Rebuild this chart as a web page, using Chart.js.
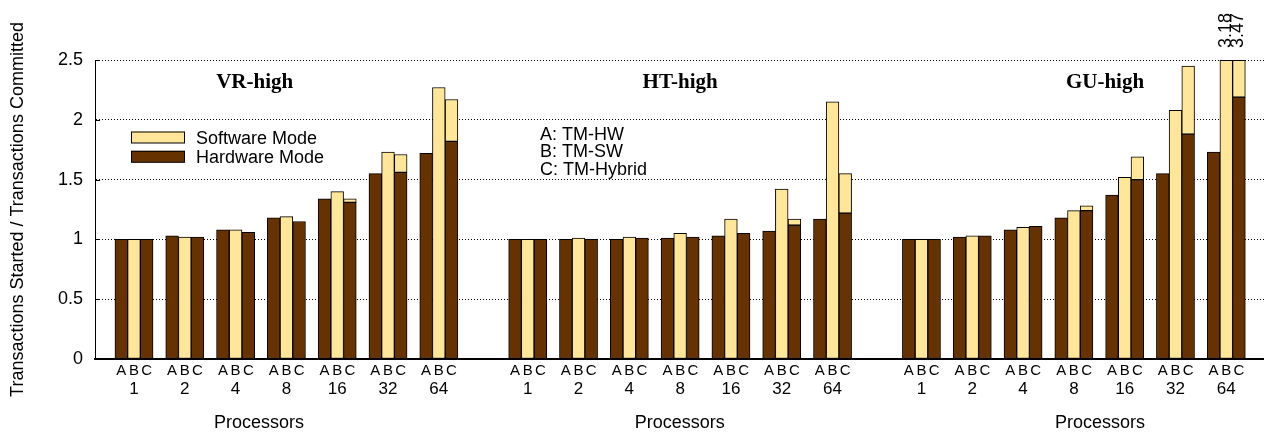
<!DOCTYPE html>
<html>
<head>
<meta charset="utf-8">
<title>Transactions started / committed</title>
<script src="https://cdn.jsdelivr.net/npm/chart.js@4.4.1/dist/chart.umd.min.js"></script>
<style>
  html, body { margin:0; padding:0; background:#fff; }
  #wrap { width:1264px; height:437px; position:relative; }
</style>
</head>
<body>
<div id="wrap"><canvas id="chart"></canvas></div>
<script>
/* ---- values ---- */
const procs  = ['1', '2', '4', '8', '16', '32', '64'];
const groups = ['VR-high', 'HT-high', 'GU-high'];
const bars   = ['A', 'B', 'C'];
const notes  = ['A: TM-HW', 'B: TM-SW', 'C: TM-Hybrid'];

// A = TM-HW (all hardware), B = TM-SW (all software),
// C = TM-Hybrid (hardware part, total with software on top)
const vrA    = [1.00, 1.03, 1.08, 1.18, 1.34, 1.55, 1.72];
const vrB    = [1.00, 1.02, 1.08, 1.19, 1.40, 1.73, 2.27];
const vrC_hw = [1.00, 1.02, 1.06, 1.15, 1.31, 1.56, 1.82];
const vrC    = [1.00, 1.02, 1.06, 1.15, 1.34, 1.71, 2.17];

const htA    = [1.00, 1.00, 1.00, 1.01, 1.03, 1.07, 1.17];
const htB    = [1.00, 1.01, 1.02, 1.05, 1.17, 1.42, 2.15];
const htC_hw = [1.00, 1.00, 1.01, 1.02, 1.05, 1.12, 1.22];
const htC    = [1.00, 1.00, 1.01, 1.02, 1.05, 1.17, 1.55];

const guA    = [1.00, 1.02, 1.08, 1.18, 1.37, 1.55, 1.73];
const guB    = [1.00, 1.03, 1.10, 1.24, 1.52, 2.08, 3.18];
const guC_hw = [1.00, 1.03, 1.11, 1.24, 1.50, 1.88, 2.19];
const guC    = [1.00, 1.03, 1.11, 1.28, 1.69, 2.45, 3.47];

const yTicks = [0, 0.5, 1, 1.5, 2, 2.5];

/* ---- layout (x measured in bar widths) ---- */
const FONT  = '"Liberation Sans", Arial, Helvetica, sans-serif';
const SERIF = '"Liberation Serif", "Times New Roman", serif';
const HW_COLOR = '#663300', SW_COLOR = '#ffe699';
const SLOT = 4, GROUP = 31;            // 3 bars + gap per cpu count, 31 units per workload
const X_MIN = -2.07, X_MAX = 89.97;
const titleX = [10.5, 44.0, 77.45];    // workload titles
const procX  = [10.84, 43.97, 77.05];  // "Processors" labels
const pos = (g, p, b) => g * GROUP + p * SLOT + b;

const sets = [[vrA, vrB, vrC_hw, vrC], [htA, htB, htC_hw, htC], [guA, guB, guC_hw, guC]];
const hwData = [], swData = [];
const letterTicks = new Map(), procTicks = new Map();
sets.forEach(([a, b, chw, ctot], g) => {
  procs.forEach((p, i) => {
    hwData.push({ x: pos(g, i, 0), y: a[i] });
    swData.push({ x: pos(g, i, 1), y: [0, b[i]] });
    hwData.push({ x: pos(g, i, 2), y: chw[i] });
    if (ctot[i] > chw[i]) swData.push({ x: pos(g, i, 2), y: [chw[i], ctot[i]] });
    bars.forEach((l, k) => letterTicks.set(pos(g, i, k), l));
    procTicks.set(pos(g, i, 1), p);
  });
});

const fixedTicks = (m) => (ax) => { ax.ticks = [...m.keys()].map(v => ({ value: v })); };
const xBase = (extra) => Object.assign({
  type: 'linear', position: 'bottom', min: X_MIN, max: X_MAX, bounds: 'data', offset: false,
  grid: { display: false, drawTicks: false }, border: { display: false }
}, extra);

const annotate = {
  id: 'annotate',
  afterDatasetsDraw(chart) {
    const { ctx, scales: { x, y } } = chart;
    ctx.save();
    ctx.fillStyle = '#000';
    ctx.strokeStyle = '#000';
    ctx.lineWidth = 1;
    // gnuplot style inward tick marks on the y axis
    ctx.beginPath();
    y.ticks.forEach(t => {
      const py = Math.round(y.getPixelForValue(t.value)) + 0.5;
      ctx.moveTo(y.right, py); ctx.lineTo(y.right + 5, py);
    });
    ctx.stroke();
    // bars running off the top: closing edge + value
    ctx.font = `18px ${FONT}`;
    chart.getSortedVisibleDatasetMetas().forEach(meta => {
      meta.data.forEach(el => {
        const top = y.getValueForPixel(el.y);
        if (top > y.max + 1e-6) {
          ctx.beginPath();
          ctx.moveTo(el.x - el.width / 2, y.top + 0.5);
          ctx.lineTo(el.x + el.width / 2, y.top + 0.5);
          ctx.stroke();
          ctx.save();
          ctx.translate(el.x - 0.5, y.top - 12);
          ctx.rotate(-Math.PI / 2);
          ctx.textAlign = 'left'; ctx.textBaseline = 'middle';
          ctx.fillText(top.toFixed(2), 0, 0);
          ctx.restore();
        }
      });
    });
    // workload titles
    ctx.font = `bold 21px ${SERIF}`;
    ctx.textAlign = 'center'; ctx.textBaseline = 'alphabetic';
    groups.forEach((t, g) => ctx.fillText(t, x.getPixelForValue(titleX[g]), 88));
    // A/B/C key
    ctx.font = `18px ${FONT}`;
    ctx.textAlign = 'left';
    notes.forEach((t, i) => ctx.fillText(t, 540, 139.5 + i * 17.8));
    // mode legend (software first)
    [...chart.data.datasets].reverse().forEach((ds, i) => {
      const yy = 131.5 + i * 19.3;
      ctx.fillStyle = ds.backgroundColor;
      ctx.fillRect(131, yy, 54, 11.5);
      ctx.strokeRect(131.5, yy + 0.5, 53, 11);
      ctx.fillStyle = '#000';
      ctx.fillText(ds.label, 196, yy + 12.5);
    });
    ctx.restore();
  }
};

Chart.defaults.color = '#000';
Chart.defaults.font.family = FONT;

new Chart(document.getElementById('chart'), {
  type: 'bar',
  data: {
    datasets: [
      { label: 'Hardware Mode', data: hwData, backgroundColor: HW_COLOR },
      { label: 'Software Mode', data: swData, backgroundColor: SW_COLOR }
    ].map(d => Object.assign(d, {
      borderColor: '#000', borderWidth: 1, borderSkipped: false, grouped: false,
      barPercentage: 1, categoryPercentage: 1,
      clip: { left: false, right: false, top: 0, bottom: false }
    }))
  },
  options: {
    responsive: true, maintainAspectRatio: false, animation: false,
    layout: { padding: { top: 60, left: 0, right: 0, bottom: 0 } },
    plugins: { legend: { display: false }, tooltip: { enabled: false } },
    scales: {
      x: xBase({
        weight: 0,
        border: { display: true, color: '#000', width: 2 },
        afterBuildTicks: fixedTicks(letterTicks),
        afterFit: ax => { ax.height = 18; },
        ticks: { autoSkip: false, maxRotation: 0, padding: 3, font: { size: 15 },
                 callback: v => letterTicks.get(v) ?? '' }
      }),
      x2: xBase({
        weight: 1,
        afterBuildTicks: fixedTicks(procTicks),
        afterFit: ax => { ax.height = 20; },
        ticks: { autoSkip: false, maxRotation: 0, padding: 2, font: { size: 17 },
                 callback: v => procTicks.get(v) ?? '' }
      }),
      x3: xBase({
        weight: 2,
        afterBuildTicks: ax => { ax.ticks = procX.map(v => ({ value: v })); },
        afterFit: ax => { ax.height = 40; },
        ticks: { autoSkip: false, maxRotation: 0, padding: 15, font: { size: 18 },
                 callback: () => 'Processors' }
      }),
      y: {
        min: yTicks[0], max: yTicks[yTicks.length - 1],
        afterBuildTicks: ax => { ax.ticks = yTicks.map(v => ({ value: v })); },
        afterFit: ax => { ax.width = 95; },
        grid: { color: '#000', lineWidth: 1, drawTicks: false },
        border: { display: true, color: '#000', width: 1, dash: [1, 2] },
        ticks: { padding: 12, font: { size: 18 }, callback: v => String(v) },
        title: { display: true, text: 'Transactions Started / Transactions Committed',
                 font: { size: 18 }, padding: { top: 7, bottom: 0 } }
      }
    }
  },
  plugins: [annotate]
});
</script>
</body>
</html>
